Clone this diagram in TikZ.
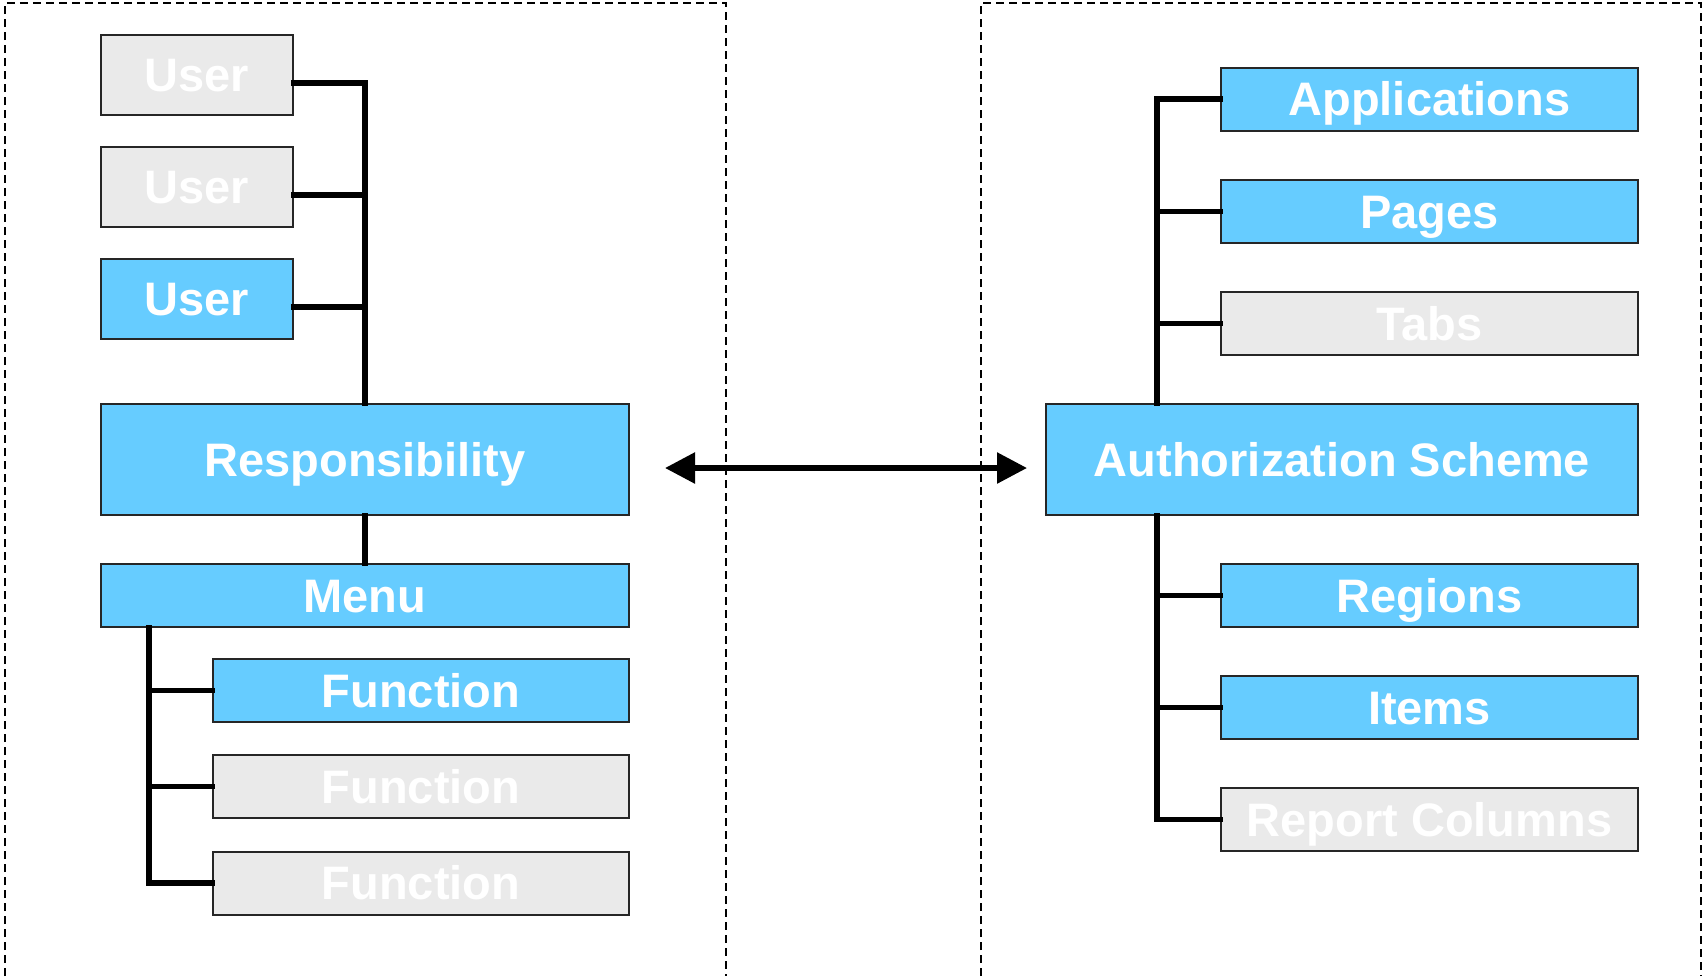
\documentclass[tikz,border=0pt]{standalone}
\usepackage{fontspec}
\setmainfont{Liberation Sans}
\usetikzlibrary{arrows.meta}
\definecolor{boxblue}{HTML}{66CCFF}
\definecolor{boxgrey}{HTML}{EAEAEA}
\tikzset{
  basebox/.style={draw=black!85, line width=1pt, inner sep=0pt, text=white,
    text height=16.8pt, text depth=0pt,
    font=\fontsize{23.5}{28}\selectfont\bfseries},
  bluebox/.style={basebox, fill=boxblue},
  greybox/.style={basebox, fill=boxgrey},
  conn/.style={line width=2.8pt, line join=miter, line cap=rect},
  biarrow/.style={line width=2.8pt, {Triangle[length=15pt,width=15pt]}-{Triangle[length=15pt,width=15pt]}},
  frame/.style={line width=0.8pt, dash pattern=on 4pt off 2.5pt}
}
\begin{document}
\begin{tikzpicture}[x=0.5pt,y=-0.5pt]
\useasboundingbox (0,0) rectangle (1706,976);
% frames
\draw[frame] (5,976) -- (5,3) -- (726,3) -- (726,976);
\draw[frame] (981,976) -- (981,3) -- (1701,3) -- (1701,976);
% left side
\node[greybox, minimum width=96pt, minimum height=40pt] (u1) at (197,75) {User};
\node[greybox, minimum width=96pt, minimum height=40pt] (u2) at (197,187) {User};
\node[bluebox, minimum width=96pt, minimum height=40pt] (u3) at (197,299) {User};
\node[bluebox, minimum width=264pt, minimum height=55.5pt] (resp) at (365,459.5) {Responsibility};
\node[bluebox, minimum width=264pt, minimum height=31.5pt] (menu) at (365,595.5) {Menu};
\node[bluebox, minimum width=208pt, minimum height=31.5pt] (f1) at (421,690.5) {Function};
\node[greybox, minimum width=208pt, minimum height=31.5pt] (f2) at (421,786.5) {Function};
\node[greybox, minimum width=208pt, minimum height=31.5pt] (f3) at (421,883) {Function};
% right side
\node[bluebox, minimum width=208.5pt, minimum height=31.5pt] (app) at (1429.5,99) {Applications};
\node[bluebox, minimum width=208.5pt, minimum height=31.5pt] (pages) at (1429.5,211.5) {Pages};
\node[greybox, minimum width=208.5pt, minimum height=31.5pt] (tabs) at (1429.5,323.5) {Tabs};
\node[bluebox, minimum width=296pt, minimum height=55.5pt] (auth) at (1342,459.5) {Authorization Scheme};
\node[bluebox, minimum width=208.5pt, minimum height=31.5pt] (reg) at (1429.5,595.5) {Regions};
\node[bluebox, minimum width=208.5pt, minimum height=31.5pt] (items) at (1429.5,707.5) {Items};
\node[greybox, minimum width=208.5pt, minimum height=31.5pt] (rep) at (1429.5,819.5) {Report Columns};
% left connectors
\coordinate (u1s) at ([yshift=-4pt]u1.east);
\coordinate (u2s) at ([yshift=-4pt]u2.east);
\coordinate (u3s) at ([yshift=-4pt]u3.east);
\draw[conn] (u1s) -| (resp.north);
\draw[conn] (u2s) -- (u2s -| resp.north);
\draw[conn] (u3s) -- (u3s -| resp.north);
\draw[conn] (resp.south) -- (menu.north);
\coordinate (mtop) at (149,627);
\draw[conn] (mtop |- menu.south) |- (f3.west);
\draw[conn] (f1.west) -- (f1.west -| mtop);
\draw[conn] (f2.west) -- (f2.west -| mtop);
% right connectors
\coordinate (rx) at (1157,404);
\draw[conn] (app.west) -| (rx |- auth.north);
\draw[conn] (pages.west) -- (pages.west -| rx);
\draw[conn] (tabs.west) -- (tabs.west -| rx);
\draw[conn] (rx |- auth.south) |- (rep.west);
\draw[conn] (reg.west) -- (reg.west -| rx);
\draw[conn] (items.west) -- (items.west -| rx);
% arrow
\draw[biarrow] ([xshift=17.5pt,yshift=-4.25pt]resp.east) -- ([xshift=-9pt,yshift=-4.25pt]auth.west);
\end{tikzpicture}
\end{document}
